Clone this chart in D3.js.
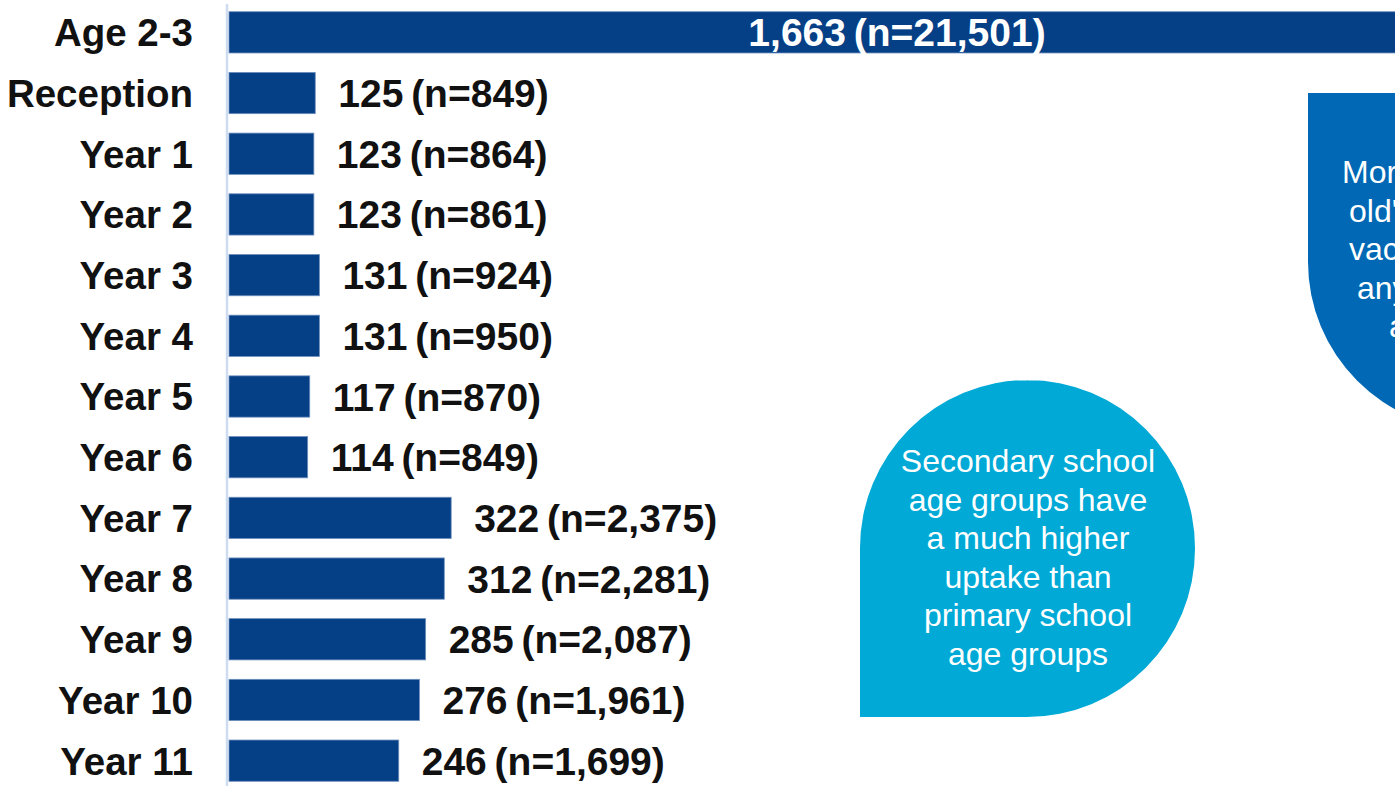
<!DOCTYPE html>
<html>
<head>
<meta charset="utf-8">
<script src="https://cdn.jsdelivr.net/npm/d3@7"></script>
<style>
  html, body { margin: 0; padding: 0; background: #ffffff; overflow: hidden; }
  svg { display: block; font-family: "Liberation Sans", Arial, sans-serif; }
</style>
</head>
<body>
<div id="chart"></div>
<script>
// Chart data
var groups = ["Age 2-3", "Reception", "Year 1", "Year 2", "Year 3", "Year 4", "Year 5",
              "Year 6", "Year 7", "Year 8", "Year 9", "Year 10", "Year 11"];
var counts = [1663, 125, 123, 123, 131, 131, 117, 114, 322, 312, 285, 276, 246];
var sampleSizes = ["21,501", "849", "864", "861", "924", "950", "870",
                   "849", "2,375", "2,281", "2,087", "1,961", "1,699"];

var notes = [
  ["Secondary school", "age groups have", "a much higher", "uptake than", "primary school", "age groups"],
  ["More 2 to 3 year", "old's received", "vaccinations", "any other school", "age group"]
];

var data = groups.map(function(g, i) {
  return { group: g, count: counts[i], n: sampleSizes[i] };
});

// Set up
var svgWidth = 1395;
var svgHeight = 786;
var axisX = 228;

var svg = d3.select("#chart")
  .append("svg")
    .attr("width", svgWidth)
    .attr("height", svgHeight);

// broken axis: the Age 2-3 bar runs off the slide
var xScale = d3.scaleLinear()
  .domain([0, 400, 1663])
  .range([0, 276, 1338]);

var yScale = d3.scaleBand()
  .domain(groups)
  .range([2, 791])
  .paddingInner(0.32)
  .paddingOuter(0.16);

// callouts
function calloutPath(x, y, w, h, r, squareCorner) {
  var p = d3.path();
  if (squareCorner === "bl") {
    p.moveTo(x, y + h);
    p.lineTo(x, y + r);
    p.arcTo(x, y, x + r, y, r);
    p.lineTo(x + w - r, y);
    p.arcTo(x + w, y, x + w, y + r, r);
    p.lineTo(x + w, y + h - r);
    p.arcTo(x + w, y + h, x + w - r, y + h, r);
    p.closePath();
  } else {
    p.moveTo(x, y);
    p.lineTo(x + w - r, y);
    p.arcTo(x + w, y, x + w, y + r, r);
    p.lineTo(x + w, y + h - r);
    p.arcTo(x + w, y + h, x + w - r, y + h, r);
    p.lineTo(x + r, y + h);
    p.arcTo(x, y + h, x, y + h - r, r);
    p.closePath();
  }
  return p.toString();
}

svg.append("path")
  .attr("d", calloutPath(860, 380, 335, 337, 168, "bl"))
  .attr("fill", "#00a9d6");

svg.append("text")
  .attr("fill", "#ffffff")
  .attr("font-size", 32)
  .attr("text-anchor", "middle")
  .selectAll("tspan")
  .data(notes[0])
  .enter()
  .append("tspan")
    .attr("x", 1028)
    .attr("y", function(d, i) { return 472 + i * 38.5; })
    .text(function(d) { return d; });

// this one is cut by the slide edge, like the original
svg.append("path")
  .attr("d", calloutPath(1308, 93, 335, 337, 168, "tl"))
  .attr("fill", "#0068b4");

var blueStarts = [1342, 1349, 1349, 1357, 1389];
svg.append("text")
  .attr("fill", "#ffffff")
  .attr("font-size", 32)
  .selectAll("tspan")
  .data(notes[1])
  .enter()
  .append("tspan")
    .attr("x", function(d, i) { return blueStarts[i]; })
    .attr("y", function(d, i) { return 183 + i * 38.5; })
    .text(function(d) { return d; });

// vertical axis line
svg.append("line")
  .attr("x1", axisX - 1)
  .attr("x2", axisX - 1)
  .attr("y1", 4)
  .attr("y2", svgHeight)
  .attr("stroke", "#cddcf0")
  .attr("stroke-width", 2.5);

// bars
svg.selectAll("rect.bar")
  .data(data)
  .enter()
  .append("rect")
    .attr("class", "bar")
    .attr("x", axisX + 1)
    .attr("y", d => yScale(d.group))
    .attr("width", d => xScale(d.count))
    .attr("height", yScale.bandwidth())
    .attr("fill", "#053f86")
    .attr("stroke", "#6f8fbf")
    .attr("stroke-width", 0.8);

// category labels
svg.selectAll("text.cat")
  .data(data)
  .enter()
  .append("text")
    .attr("class", "cat")
    .attr("x", 193)
    .attr("y", d => yScale(d.group) + yScale.bandwidth() / 2)
    .attr("dy", "0.36em")
    .attr("text-anchor", "end")
    .attr("font-size", 38.5)
    .attr("font-weight", "bold")
    .attr("fill", "#111111")
    .text(d => d.group);

// value labels: inside the long bar, after the others
var fmt = d3.format(",");
svg.selectAll("text.val")
  .data(data)
  .enter()
  .append("text")
    .attr("class", "val")
    .attr("x", function(d, i) {
      return i === 0 ? axisX + 669 : axisX + xScale(d.count) + 24;
    })
    .attr("y", d => yScale(d.group) + yScale.bandwidth() / 2)
    .attr("dy", "0.36em")
    .attr("text-anchor", (d, i) => i === 0 ? "middle" : "start")
    .attr("font-size", 39)
    .attr("font-weight", "bold")
    .attr("fill", (d, i) => i === 0 ? "#ffffff" : "#111111")
    .text(d => fmt(d.count) + "\u2009(n=" + d.n + ")");
</script>
</body>
</html>
